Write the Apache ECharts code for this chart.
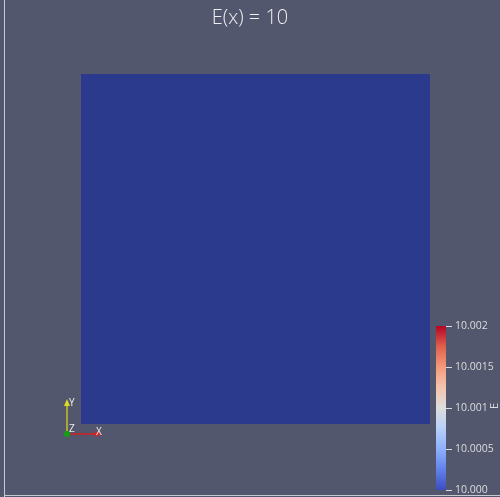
<!DOCTYPE html>
<html>
<head>
<meta charset="utf-8">
<style>
  html, body { margin: 0; padding: 0; background: #52576E; }
  #chart { width: 500px; height: 497px; }
</style>
<script src="https://cdn.jsdelivr.net/npm/echarts@6/dist/echarts.min.js"></script>
</head>
<body>
<div id="chart"></div>
<script>
// Field E(x) over the unit square: constant value 10
const fieldValue = 10;
const domainX = [0, 1];
const domainY = [0, 1];

// Colour legend range and ticks
const legendTitle = 'E';
const legendMin = 10.000;
const legendMax = 10.002;
const legendStep = 0.0005;
const legendTickLabels = ['10.000', '10.0005', '10.001', '10.0015', '10.002'];

// Cool-to-warm diverging colour map stops
const mapStops = [0, 0.125, 0.25, 0.375, 0.5, 0.625, 0.75, 0.875, 1];
const mapColors = ['#3B4CC0', '#6282EA', '#8DB0FE', '#B8D0F9', '#DDDDDD',
                   '#F5C4AD', '#F49A7B', '#DE604D', '#B40426'];

// Shaded surface colour of the field cell
const surfaceColor = '#2C3A8D';

const chart = echarts.init(document.getElementById('chart'), null, { renderer: 'canvas' });

function tickLabel(v) {
  const idx = Math.round((v - legendMin) / legendStep);
  return legendTickLabels[idx] !== undefined ? legendTickLabels[idx] : '';
}

const option = {
  backgroundColor: '#52576E',
  animation: false,
  title: {
    text: 'E(x) = ' + fieldValue,
    left: 'center',
    top: 3,
    textStyle: { color: '#eeeeee', fontSize: 20, fontWeight: 300, fontFamily: 'Open Sans' }
  },
  grid: [
    { left: 81, top: 74, width: 349, height: 350, outerBoundsMode: 'none', containLabel: false },
    { left: 436, top: 326, width: 10, height: 164, outerBoundsMode: 'none', containLabel: false }
  ],
  xAxis: [
    { gridIndex: 0, type: 'value', min: domainX[0], max: domainX[1], show: false },
    { gridIndex: 1, type: 'value', min: 0, max: 1, show: false }
  ],
  yAxis: [
    { gridIndex: 0, type: 'value', min: domainY[0], max: domainY[1], show: false },
    {
      gridIndex: 1, type: 'value', position: 'right',
      min: legendMin, max: legendMax, interval: legendStep,
      axisLine: { show: false, onZero: false },
      axisTick: { show: true, inside: false, length: 6, lineStyle: { color: '#dddddd', width: 1 } },
      splitLine: { show: false },
      axisLabel: {
        color: '#dddddd', fontSize: 10.5, fontFamily: 'Open Sans', margin: 9,
        formatter: tickLabel
      }
    }
  ],
  series: [
    {
      type: 'custom',
      xAxisIndex: 0, yAxisIndex: 0,
      silent: true,
      data: [[domainX[0], domainY[0], domainX[1], domainY[1], fieldValue]],
      renderItem: function (params, api) {
        const p0 = api.coord([api.value(0), api.value(3)]);
        const p1 = api.coord([api.value(2), api.value(1)]);
        return {
          type: 'rect',
          shape: { x: p0[0], y: p0[1], width: p1[0] - p0[0], height: p1[1] - p0[1] },
          style: { fill: surfaceColor }
        };
      }
    },
    {
      type: 'custom',
      xAxisIndex: 1, yAxisIndex: 1,
      silent: true,
      data: [[0, legendMin, 1, legendMax]],
      renderItem: function (params, api) {
        const p0 = api.coord([api.value(0), api.value(3)]);
        const p1 = api.coord([api.value(2), api.value(1)]);
        const stops = mapStops.map(function (s, i) {
          return { offset: 1 - s, color: mapColors[i] };
        }).reverse();
        return {
          type: 'rect',
          shape: { x: p0[0], y: p0[1], width: p1[0] - p0[0], height: p1[1] - p0[1] },
          style: { fill: new echarts.graphic.LinearGradient(0, 0, 0, 1, stops) }
        };
      }
    }
  ],
  graphic: [
    // view border lines
    { type: 'line', shape: { x1: 4.5, y1: 0, x2: 4.5, y2: 497 }, style: { stroke: '#c8cad2', lineWidth: 1 } },
    { type: 'line', shape: { x1: 4, y1: 495.5, x2: 500, y2: 495.5 }, style: { stroke: '#c8cad2', lineWidth: 1 } },
    // colour legend title, rotated beside the bar
    {
      type: 'text', x: 495, y: 406, rotation: Math.PI / 2,
      style: { text: legendTitle, fill: '#dddddd', font: '11px "Open Sans"', align: 'center', verticalAlign: 'middle' }
    },
    // orientation triad
    { type: 'line', shape: { x1: 67, y1: 434, x2: 67, y2: 404 }, style: { stroke: '#c8c020', lineWidth: 1.5 } },
    { type: 'polygon', shape: { points: [[64, 406], [70, 406], [67, 399]] }, style: { fill: '#e0d820' } },
    { type: 'line', shape: { x1: 67, y1: 434, x2: 97, y2: 434 }, style: { stroke: '#d42020', lineWidth: 1.5 } },
    { type: 'polygon', shape: { points: [[95, 431], [95, 437], [102, 434]] }, style: { fill: '#e02020' } },
    { type: 'circle', shape: { cx: 67, cy: 434, r: 3 }, style: { fill: '#11a011' } },
    { type: 'text', left: 69, top: 398, style: { text: 'Y', fill: '#eeeeee', font: '10px "Open Sans"' } },
    { type: 'text', left: 69, top: 424, style: { text: 'Z', fill: '#eeeeee', font: '10px "Open Sans"' } },
    { type: 'text', left: 96, top: 427, style: { text: 'X', fill: '#eeeeee', font: '10px "Open Sans"' } }
  ]
};

chart.setOption(option);
</script>
</body>
</html>
